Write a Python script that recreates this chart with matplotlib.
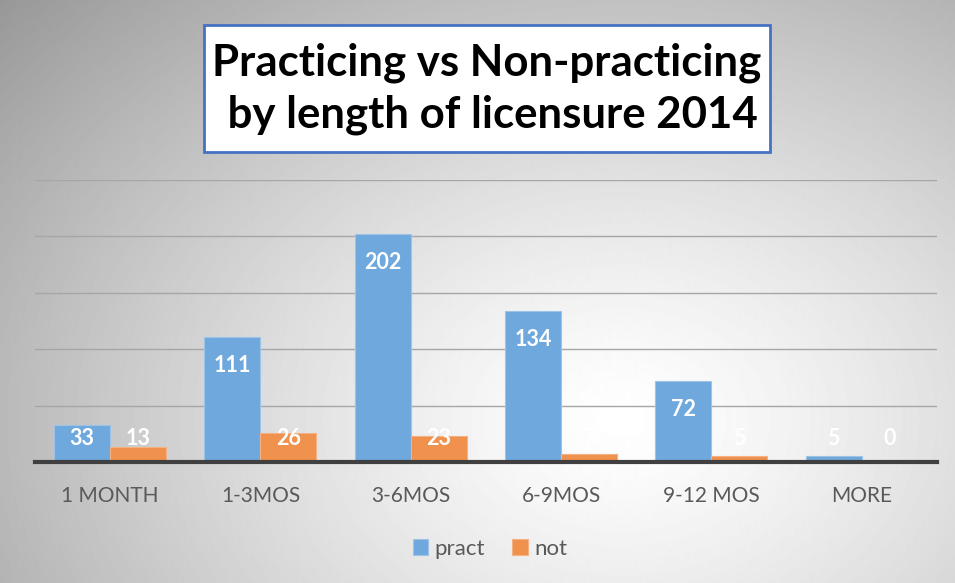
import numpy as np
import matplotlib.pyplot as plt
from matplotlib.patches import Rectangle

categories = ['1 MONTH', '1-3MOS', '3-6MOS', '6-9MOS', '9-12 MOS', 'MORE']
pract = [33, 111, 202, 134, 72, 5]
not_pract = [13, 26, 23, 7, 5, 0]
title = 'Practicing vs Non-practicing\n by length of licensure 2014'

blue = '#6FA8DC'
orange = '#F0914D'
font = ['Lato', 'DejaVu Sans']
plt.rcParams['font.family'] = font

fig = plt.figure(figsize=(9.55, 5.83), dpi=100)

# radial gradient background
bg = fig.add_axes([0, 0, 1, 1], zorder=-10)
yy, xx = np.mgrid[0:583, 0:955]
r = np.sqrt(((xx - 620) / 700.0) ** 2 + ((yy - 420) / 520.0) ** 2)
shade = np.clip(1.0 - 0.32 * r ** 1.3, 0, 1)
bg.imshow(shade, cmap='gray', vmin=0, vmax=1, aspect='auto', extent=[0, 955, 583, 0])
bg.set_xlim(0, 955)
bg.set_ylim(583, 0)
bg.axis('off')

ax = fig.add_axes([0.0366, 0.2075, 0.9444, 0.4837])
ax.patch.set_alpha(0)
x = np.arange(len(categories))
w = 0.373
b1 = ax.bar(x - w / 2, pract, w, color=blue, edgecolor='#9DC3E6', linewidth=0.8, label='pract', zorder=3)
b2 = ax.bar(x + w / 2, not_pract, w, color=orange, edgecolor='#F4B183', linewidth=0.8, label='not', zorder=3)

for bars, vals in [(b1, pract), (b2, not_pract)]:
    for bar, v in zip(bars, vals):
        ax.text(bar.get_x() + bar.get_width() / 2, max(v - 25, 21), str(v),
                ha='center', va='center', color='white', fontsize=15.5,
                fontweight='bold', zorder=4)

ax.set_xlim(-0.5, len(categories) - 0.5)
ax.set_ylim(0, 250)
ax.set_yticks([50, 100, 150, 200, 250])
ax.yaxis.grid(True, color='#A6A6A6', linewidth=1, zorder=0)
ax.tick_params(axis='y', left=False, labelleft=False)
ax.set_xticks(x)
ax.set_xticklabels(categories, fontsize=15, color='#595959')
ax.tick_params(axis='x', length=0, pad=17)
for s in ['top', 'right', 'left']:
    ax.spines[s].set_visible(False)
ax.spines['bottom'].set_color('#404040')
ax.spines['bottom'].set_linewidth(3)
ax.spines['bottom'].set_zorder(5)

leg = fig.legend(loc='center', bbox_to_anchor=(0.513, 0.059), ncol=2, frameon=False,
                 fontsize=16, handlelength=0.7, handleheight=0.7, handletextpad=0.3,
                 columnspacing=1.2)
for t in leg.get_texts():
    t.set_color('#595959')

# title box
fig.patches.append(Rectangle((204 / 955, 1 - 152 / 583), 566 / 955, 127 / 583,
                             transform=fig.transFigure, facecolor='white',
                             edgecolor='#4472C4', linewidth=2, zorder=1))
fig.text(487 / 955, 1 - 89 / 583, title, ha='center', va='center', fontsize=31.5,
         fontweight='bold', color='black', linespacing=1.35, zorder=2)

fig.savefig('out.png', dpi=100)
